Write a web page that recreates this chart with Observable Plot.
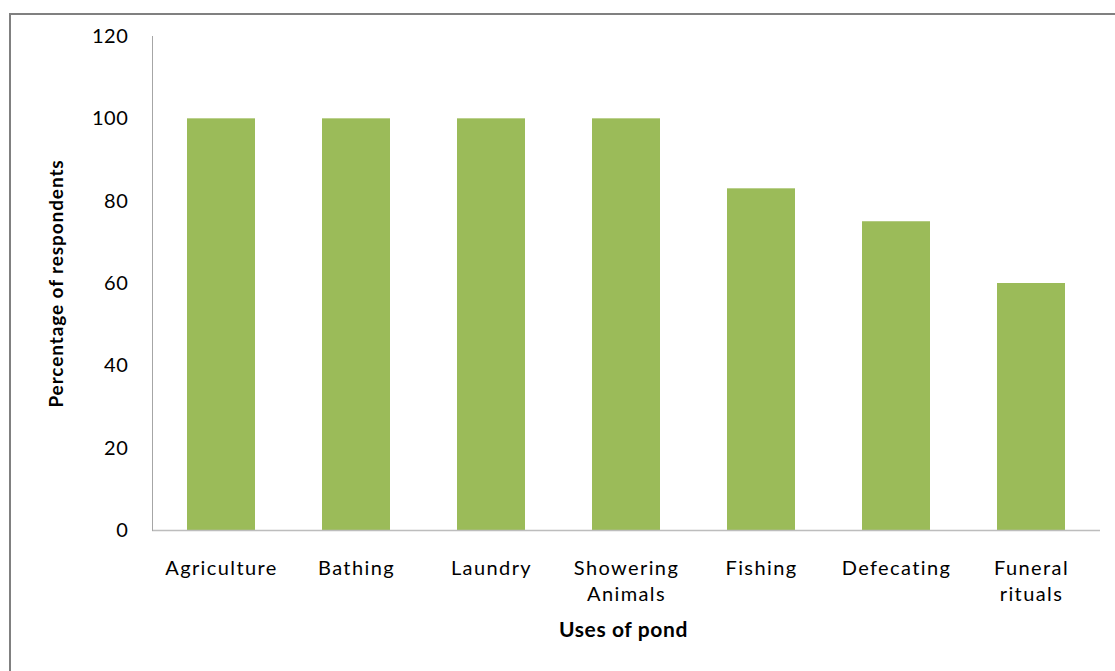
<!DOCTYPE html>
<html>
<head>
<meta charset="utf-8">
<script src="https://cdn.jsdelivr.net/npm/d3@7"></script>
<script src="https://cdn.jsdelivr.net/npm/@observablehq/plot@0.6"></script>
<style>
  html, body { margin: 0; padding: 0; background: #fff; }
  #wrap { position: relative; width: 1115px; height: 671px; overflow: hidden; }
  #border { position: absolute; left: 9px; top: 13px; width: 1200px; height: 800px;
            border-top: 2px solid #808080; border-left: 2px solid #808080; box-sizing: border-box; }
  #chart { position: absolute; left: 0; top: 0; }
  #chart svg { font-family: Lato, "Open Sans", sans-serif; }
  #chart svg g[aria-label="x-axis tick label"] { letter-spacing: 1.4px; }
  #chart svg g[aria-label="y-axis tick label"] { letter-spacing: 0.6px; }
  #chart svg g.ytitle { letter-spacing: 0.9px; }
  #chart svg g.xtitle { letter-spacing: 0.6px; }
</style>
</head>
<body>
<div id="wrap">
  <div id="border"></div>
  <div id="chart"></div>
</div>
<script>
const categories = ["Agriculture", "Bathing", "Laundry", "Showering\nAnimals", "Fishing", "Defecating", "Funeral\nrituals"];
const values = [100, 100, 100, 100, 83, 75, 60];
const yTicks = [0, 20, 40, 60, 80, 100, 120];
const xTitle = "Uses of pond";
const yTitle = "Percentage of respondents";

const data = categories.map((c, i) => ({category: c, value: values[i]}));

const chart = Plot.plot({
  width: 1115,
  height: 671,
  marginLeft: 152,
  marginRight: 15,
  marginTop: 36,
  marginBottom: 141,
  style: {background: "transparent", color: "#000"},
  x: {domain: categories, paddingInner: 0.5, paddingOuter: 0.25, label: null},
  y: {domain: [0, 120], label: null},
  marks: [
    Plot.barY(data, {x: "category", y: "value", fill: "#9BBB59"}),
    Plot.ruleY([0], {stroke: "#bdbdbd", strokeWidth: 1.5}),
    Plot.frame({anchor: "left", stroke: "#a6a6a6", strokeWidth: 1}),
    Plot.axisY(yTicks, {tickSize: 0, tickPadding: 24, fontSize: 20, label: null}),
    Plot.axisX({tickSize: 0, tickPadding: 26, fontSize: 20, lineHeight: 1.3, label: null}),
    Plot.text([yTitle], {frameAnchor: "left", textAnchor: "middle", rotate: -90, dx: -96, fontSize: 19, fontWeight: "bold", className: "ytitle"}),
    Plot.text([xTitle], {frameAnchor: "bottom", dy: 106, dx: -3, fontSize: 21, fontWeight: "bold", className: "xtitle"})
  ]
});
document.getElementById("chart").appendChild(chart);
</script>
</body>
</html>
